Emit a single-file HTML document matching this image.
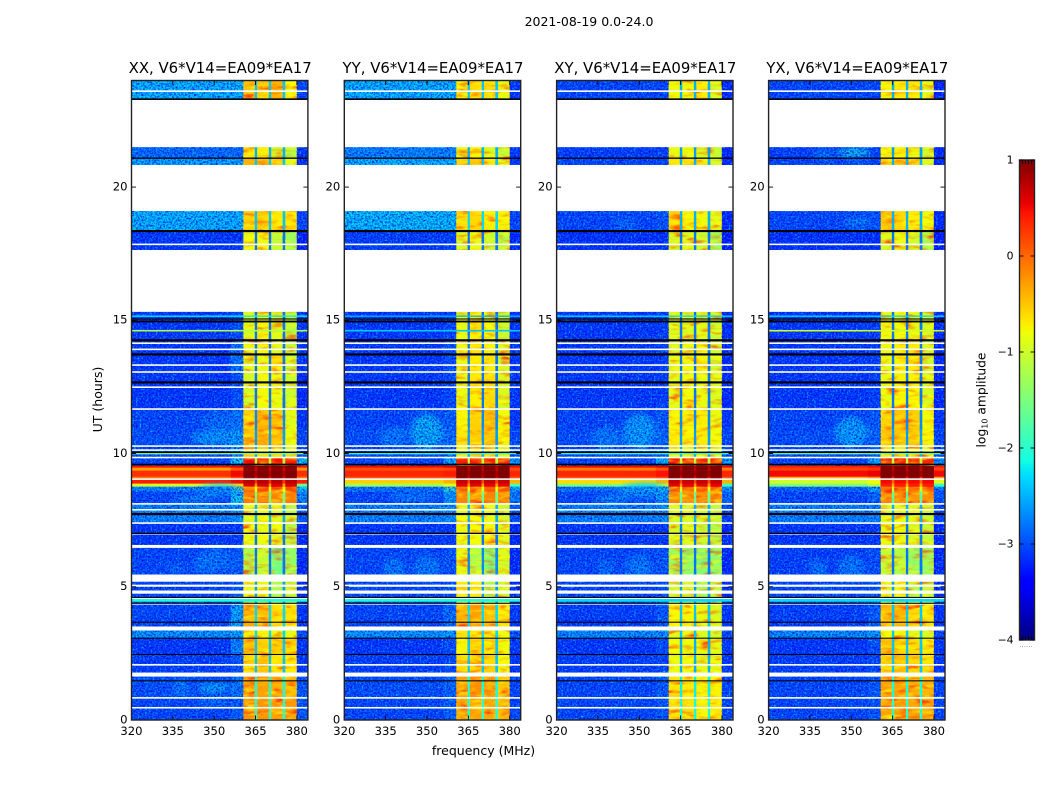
<!DOCTYPE html>
<html lang="en">
<head>
<meta charset="utf-8">
<title>2021-08-19 0.0-24.0</title>
<style>
html,body{margin:0;padding:0;background:#fff;}
svg{display:block;}
text{font-family:"DejaVu Sans","Liberation Sans",sans-serif;fill:#000;}
</style>
</head>
<body>
<svg id="chart" xmlns="http://www.w3.org/2000/svg" width="1050" height="800" viewBox="0 0 1050 800">
  <defs>
    <filter id="speckle" x="0" y="0" width="100%" height="100%" color-interpolation-filters="sRGB">
      <feTurbulence type="fractalNoise" baseFrequency="0.55" numOctaves="2" seed="7"/>
      <feColorMatrix type="matrix" values="0 0 0 0 0  0 2.6 0 0 -1.1  0 0 0 0 0.92  1.7 0 0 0 -0.42"/>
    </filter>
    <filter id="mottle" x="0" y="0" width="100%" height="100%" color-interpolation-filters="sRGB">
      <feTurbulence type="fractalNoise" baseFrequency="0.07 0.2" numOctaves="2" seed="11"/>
      <feColorMatrix type="matrix" values="0 0 0 0 1  0 3 0 0 -0.75  0 0 0 0 0  1.5 0 0 0 -0.52"/>
    </filter>
    <filter id="soft" x="-40%" y="-40%" width="180%" height="180%">
      <feGaussianBlur stdDeviation="3"/>
    </filter>
  </defs>
  <rect x="0" y="0" width="1050" height="800" fill="#fff"/>
  <text x="589" y="26" font-size="12.5" text-anchor="middle">2021-08-19 0.0-24.0</text>
  <text x="483.5" y="755" font-size="12.5" text-anchor="middle">frequency (MHz)</text>
  <text transform="translate(102,399.5) rotate(-90)" font-size="12.5" text-anchor="middle">UT (hours)</text>
  <text transform="translate(985.5,400) rotate(-90)" font-size="12.3" text-anchor="middle">log<tspan font-size="8" dy="2">10</tspan><tspan dy="-2"> amplitude</tspan></text>
  <g id="panels"></g>
  <g id="colorbar"></g>
</svg>
<script>
// ---- Data ----
const panelTitles = ["XX, V6*V14=EA09*EA17", "YY, V6*V14=EA09*EA17", "XY, V6*V14=EA09*EA17", "YX, V6*V14=EA09*EA17"];
const xTicks = [320, 335, 350, 365, 380];
const yTicks = [0, 5, 10, 15, 20];
const cbarTicks = [1, 0, -1, -2, -3, -4];

// Frequency channel edges (MHz) and the row column each span reads from.
const freqEdges = [320, 356, 360.6, 364.7, 365.6, 369.8, 370.7, 374.8, 375.8, 380, 384];
const freqColumn = [0, 1, 2, 6, 3, 6, 4, 6, 5, 7];

// Time rows (UT hours).
const rowStart = [23.3, 21.08, 20.83, 18.35, 17.64, 14.25, 13.72, 13.06, 11.67, 10.93, 10.28, 9.85, 9.55, 9.47, 9.36, 9.13, 9.04, 8.87, 8.75, 8.57, 8.11, 7.39, 6.52, 5.46, 4.36, 3.51, 3.07, 2.46, 1.78, 0.83, 0];
const rowEnd = [24, 21.5, 21.08, 19.1, 18.35, 15.32, 14.25, 13.72, 13.06, 11.67, 10.93, 10.28, 9.85, 9.55, 9.47, 9.36, 9.13, 9.04, 8.87, 8.75, 8.57, 8.11, 7.39, 6.52, 5.46, 4.36, 3.36, 3.07, 2.46, 1.63, 0.83];

// Strong-interference interval (hours): no noise texture here.
const hotStart = 8.75;
const hotEnd = 9.55;

// log10 amplitude per row: [bg, shoulder, band1, band2, band3, band4, notch, edge]
const levelsXX = [
[-2.3,-2.3,-.5,-.5,-.4,-.8,-2.4,-3],[-2.75,-2.75,-.7,-.7,-1,-1.2,-2.5,-3.1],[-2.4,-2.4,-.4,-.4,-.6,-.9,-2.4,-3.1],
[-2.3,-2.3,-.55,-.5,-.7,-.7,-2.4,-3],[-3.1,-3.1,-.9,-.8,-1.1,-1.3,-2.8,-3.3],[-3.1,-2.95,-.95,-.75,-.9,-1.1,-2.8,-3.1],
[-3.1,-2.7,-.85,-.75,-.95,-1.1,-2.8,-3.1],[-3.1,-2.7,-.95,-.85,-.65,-1.1,-2.8,-3.1],[-3.1,-2.95,-1,-.8,-.85,-1.05,-2.8,-3.2],
[-3,-2.7,-.55,-.4,-.45,-.9,-2.7,-3.1],[-2.95,-2.5,-.45,-.4,-.4,-.85,-2.6,-3],[-3,-2.6,-.6,-.6,-.6,-.9,-2.5,-3],
[-3,-2.2,.5,.45,.45,.4,-1.2,-2.2],[.45,.6,1,1,1,1,.8,.45],[-.3,.1,.95,.95,.95,.95,.6,-.2],
[.3,.5,1,1,1,1,.8,.3],[-.1,.2,.9,.9,.9,.9,.5,-.1],[.4,.5,.75,.75,.75,.75,.3,.4],
[-1,-.6,.6,.6,.6,.6,-.3,-1.6],[-2.6,-1.4,.1,.2,.2,.2,-.8,-2.2],[-3,-2.2,-.1,-.15,-.15,-.1,-1.5,-2.6],
[-2.6,-2.5,-.9,-.85,-.9,-1.1,-2.5,-2.9],[-3.1,-3.1,-.85,-.85,-.9,-1.2,-2.8,-3.2],[-3,-2.85,-1.25,-1.1,-1.6,-1.4,-2.8,-3.2],
[-3,-2.85,-.85,-.85,-1.3,-1.1,-2.6,-3.2],[-3,-2.4,-.35,-.45,-.6,-.65,-2.3,-3.1],[-2.5,-2.4,-.75,-.75,-.85,-.85,-2.3,-2.9],
[-3.1,-2.6,-.45,-.55,-.55,-.6,-2.4,-3.1],[-3.05,-2.9,-.55,-.5,-.65,-.7,-2.4,-3.1],[-2.95,-2.7,-.25,-.3,-.35,-.4,-2.1,-2.9],
[-3,-2.85,-.2,-.25,-.3,-.25,-2,-2.9]];
const levelsYY = [
[-2.3,-2.3,-.75,-.6,-.65,-.85,-2.4,-3.1],[-2.6,-2.6,-.85,-.75,-.95,-1.1,-2.5,-3.1],[-2.3,-2.3,-.6,-.5,-.7,-.9,-2.4,-3.1],
[-2.25,-2.25,-.6,-.6,-.7,-.75,-2.3,-3],[-3.05,-3.05,-.95,-.85,-1.05,-1.2,-2.8,-3.2],[-3.1,-3,-.85,-.7,-.8,-1.05,-2.8,-3.1],
[-3.1,-2.95,-.8,-.65,-.75,-1,-2.8,-3.1],[-3.1,-2.95,-.85,-.7,-.65,-1,-2.8,-3.1],[-3.1,-3,-.85,-.7,-.6,-.95,-2.8,-3.1],
[-3,-2.85,-.75,-.55,-.45,-.8,-2.7,-3.1],[-2.95,-2.75,-.65,-.55,-.45,-.75,-2.6,-3],[-3,-2.75,-.7,-.6,-.6,-.85,-2.5,-3],
[-3,-2.4,.4,.4,.4,.35,-1.1,-2.5],[.5,.6,1,1,1,1,.8,.5],[.15,.2,1,1,1,1,.7,.15],
[.35,.4,1,1,1,1,.85,.35],[.1,.1,.95,.95,.95,.95,.6,.1],[-.55,-.4,.7,.7,.7,.7,.2,-.4],
[-1.3,-.9,.55,.55,.55,.55,-.3,-1.8],[-2.7,-1.9,.05,.1,.1,.1,-.9,-2.4],[-3,-2.5,-.15,-.2,-.15,-.2,-1.6,-2.7],
[-2.6,-2.5,-.85,-.8,-.85,-1,-2.5,-2.9],[-3.1,-3.1,-.85,-.8,-.75,-.95,-2.8,-3.2],[-3,-2.9,-.85,-1.25,-1.5,-1,-2.7,-3.2],
[-3,-2.9,-.7,-.7,-1.2,-1,-2.6,-3.2],[-3,-2.75,-.4,-.3,-.45,-.7,-2.3,-3.1],[-2.5,-2.45,-.65,-.65,-.7,-.8,-2.3,-2.9],
[-3.1,-2.95,-.75,-.55,-.65,-.8,-2.4,-3.1],[-3.05,-3,-.6,-.6,-.55,-.8,-2.4,-3.1],[-2.95,-2.8,-.3,-.2,-.25,-.5,-2.1,-3],
[-3,-2.85,-.35,-.3,-.35,-.45,-2,-3]];
const levelsXY = [
[-3,-3,-.8,-.8,-.7,-.95,-2.5,-3.2],[-3.05,-3.05,-.85,-.85,-.95,-1.1,-2.6,-3.2],[-3,-3,-.7,-.65,-.75,-1,-2.5,-3.2],
[-3,-2.9,-.6,-.75,-.8,-.9,-2.5,-3.2],[-3.15,-3.15,-1,-.95,-1.05,-1.3,-2.8,-3.3],[-3.1,-3.05,-.95,-.95,-.9,-1.05,-2.8,-3.2],
[-3.1,-3.05,-.95,-.85,-.8,-1.05,-2.8,-3.2],[-3.1,-3.05,-.9,-.8,-.75,-1,-2.8,-3.2],[-3.1,-3.05,-.9,-.8,-.85,-.95,-2.8,-3.2],
[-3,-2.9,-.75,-.75,-.7,-.85,-2.7,-3.1],[-2.95,-2.8,-.7,-.7,-.7,-.8,-2.6,-3],[-3,-2.85,-.8,-.8,-.8,-.9,-2.5,-3],
[-3,-2.3,.45,.4,.4,.4,-1.1,-2.4],[.5,.6,1,1,1,1,.8,.5],[-.1,.1,1,1,1,1,.7,-.1],
[.35,.45,1,1,1,1,.85,.35],[.1,.2,.95,.95,.95,.95,.5,.1],[-.6,-.4,.7,.7,.7,.7,.2,-.4],
[-1.5,-1,.55,.55,.55,.55,-.3,-1.9],[-2.7,-1.9,.1,.05,.1,.1,-.9,-2.5],[-3,-2.6,-.15,-.25,-.15,-.1,-1.6,-2.8],
[-2.6,-2.55,-1,-.95,-1,-1.1,-2.5,-3],[-3.1,-3.1,-1,-1,-1.05,-1.2,-2.8,-3.2],[-3,-2.9,-1.3,-1.4,-1.5,-1.45,-2.8,-3.2],
[-3,-2.9,-1,-1,-1.3,-1.1,-2.6,-3.2],[-3.05,-2.85,-.75,-.75,-.85,-.95,-2.4,-3.1],[-2.55,-2.5,-.9,-.9,-.95,-1,-2.4,-3],
[-3.1,-2.95,-.8,-.85,-.85,-.9,-2.5,-3.1],[-3.05,-3,-.85,-.8,-.9,-.9,-2.5,-3.1],[-3,-2.85,-.65,-.7,-.75,-.75,-2.2,-3],
[-3,-2.9,-.65,-.65,-.75,-.7,-2.1,-3]];
const levelsYX = [
[-3,-3,-.75,-.7,-.65,-.9,-2.5,-3.2],[-3.05,-3.05,-.75,-.75,-.85,-1,-2.6,-3.2],[-3,-3,-.55,-.5,-.6,-.95,-2.5,-3.2],
[-3,-2.9,-.5,-.6,-.7,-.8,-2.5,-3.2],[-3.15,-3.15,-.95,-.85,-1,-1.25,-2.8,-3.3],[-3.1,-3.05,-.8,-.8,-.85,-1,-2.8,-3.2],
[-3.1,-3.05,-.8,-.7,-.7,-1,-2.8,-3.2],[-3.1,-3.05,-.85,-.75,-.7,-1,-2.8,-3.2],[-3.1,-3.05,-.85,-.75,-.75,-.95,-2.8,-3.2],
[-3,-2.9,-.55,-.5,-.55,-.8,-2.7,-3.1],[-2.95,-2.8,-.5,-.5,-.5,-.75,-2.6,-3],[-3,-2.85,-.7,-.7,-.7,-.85,-2.5,-3],
[-3,-2.4,.4,.4,.35,.35,-1.1,-2.5],[.4,.5,1,1,1,1,.8,.4],[.2,.3,1,1,1,1,.7,.2],
[.5,.55,1,1,1,1,.85,.5],[-.4,-.2,.9,.9,.9,.9,.4,-.3],[-1,-.8,.5,.5,.5,.5,0,-.9],
[-1.5,-1.2,.4,.4,.4,.4,-.4,-1.9],[-2.8,-2.4,.1,.05,.1,.1,-1,-2.7],[-3,-2.8,-.15,-.2,-.25,-.2,-1.7,-2.9],
[-2.6,-2.6,-.9,-.85,-.9,-1.05,-2.5,-3],[-3.1,-3.1,-.85,-.85,-.95,-1.1,-2.8,-3.2],[-3.05,-2.95,-1.1,-1.2,-1.4,-1.35,-2.8,-3.2],
[-3,-2.9,-.85,-.8,-1.2,-1.05,-2.6,-3.2],[-3.05,-2.85,-.45,-.4,-.6,-.7,-2.4,-3.1],[-2.55,-2.5,-.8,-.8,-.9,-.95,-2.4,-3],
[-3.1,-2.95,-.45,-.55,-.6,-.7,-2.4,-3.1],[-3.05,-3,-.55,-.45,-.6,-.65,-2.4,-3.1],[-3,-2.85,-.3,-.3,-.35,-.4,-2.1,-3],
[-3,-2.9,-.3,-.25,-.3,-.3,-2,-3]];
const panelLevels = [levelsXX, levelsYY, levelsXY, levelsYX];

// Faint emission patches: [UT, MHz, half-height h, half-width MHz, log amp]
const patchesXX = [[10.6,351,.3,9,-2.4],[11.2,352,.35,7,-2.7],[5.8,347,.5,5,-2.7],[6,351,.5,6,-2.7],[5.7,336,.2,4,-2.8],[1.2,350,.2,6,-2.3],[1.2,338,.35,3,-2.6],[.7,350,.1,6,-2.5],[8.3,342,.18,8,-2.6],[8.6,352,.25,8,-2.5]];
const patchesYY = [[10.8,350,.7,6,-2.2],[10.6,338,.4,5,-2.6],[5.7,350,.5,5,-2.6],[5.7,338,.4,4,-2.6],[8.35,345,.2,9,-2.6]];
const patchesXY = [[10.8,350,.7,6,-2.3],[10.5,338,.5,5,-2.6],[5.7,350,.5,5,-2.6],[5.7,338,.35,3,-2.7],[18.6,345,.2,4,-2.7],[8.3,340,.18,6,-2.5],[8.6,352,.3,9,-2.4]];
const patchesYX = [[21.3,351,.2,6,-2.1],[21.2,340,.2,4,-2.6],[10.8,350,.6,6,-2.3],[5.7,350,.5,5,-2.6],[5.7,338,.3,3,-2.6],[18.7,352,.2,5,-2.6]];
const panelPatches = [patchesXX, patchesYY, patchesXY, patchesYX];

// Narrow interference lines per panel: [start h, end h, log amp]
const linesXX = [[14.58,14.64,-1.2],[15.13,15.18,-2.2],[9.97,10.02,-1.5],[4.44,4.54,-2.1]];
const linesYY = [[14.58,14.64,-2.4],[15.13,15.18,-2.5],[9.97,10.02,-2],[4.44,4.54,-2.1]];
const linesXY = [[15.13,15.18,-2.3],[9.97,10.02,-2],[4.44,4.54,-2.3]];
const linesYX = [[14.58,14.64,-1],[15.13,15.18,-2.3],[9.97,10.02,-1.7],[4.44,4.54,-2.3]];
const panelLines = [linesXX, linesYY, linesXY, linesYX];

// Flagged time spans, shared by all panels (hours).
const whiteSpans = [[23.57,23.63],[21.5,23.3],[19.1,20.83],[15.32,17.64],[17.82,17.88],[14.11,14.17],[13.88,13.94],[13.29,13.35],[13.03,13.09],[12.46,12.52],[11.64,11.7],[10.25,10.31],[10.1,10.16],[9.82,9.88],[9.01,9.07],[8.08,8.14],[7.86,7.92],[7.36,7.42],[6.96,7.02],[6.46,6.57],[5.19,5.46],[5,5.08],[4.74,4.86],[4.54,4.6],[4.33,4.39],[3.36,3.51],[2.04,2.1],[1.63,1.78],[.8,.86],[.43,.49]];
const blackSpans = [[23.27,23.33],[21.06,21.11],[18.31,18.39],[15.03,15.07],[14.92,14.99],[14.21,14.29],[13.68,13.76],[12.63,12.71],[10.02,10.07],[9.56,9.62],[7.69,7.77],[6.98,7.03],[4.58,4.62],[4.36,4.4],[3.65,3.69],[3.05,3.09],[2.44,2.48],[1.45,1.49]];

// ---- Axis functions ----
const panelLeft = [131.5, 344.3, 556.6, 768.6];
const panelWidth = 176.4;
const freqMin = 320, freqMax = 384;
const plotTop = 80.5, plotBottom = 720, hourMax = 24;
function xScale(panel, f) { return panelLeft[panel] + (f - freqMin) / (freqMax - freqMin) * panelWidth; }
function yScale(h) { return plotBottom - h / hourMax * (plotBottom - plotTop); }
const cbarX = 1019.5, cbarW = 15, cbarTop = 160, cbarBottom = 640;
function cbarScale(v) { return cbarBottom - (v + 4) / 5 * (cbarBottom - cbarTop); }

function clamp01(x) { return Math.max(0, Math.min(1, x)); }
function jet(v) {
  const x = clamp01((v + 4) / 5);
  let r, g, b;
  if (x < .35) r = 0; else if (x < .66) r = (x - .35) / .31; else if (x < .89) r = 1; else r = 1 - (x - .89) / .11 * .5;
  if (x < .125) g = 0; else if (x < .375) g = (x - .125) / .25; else if (x < .64) g = 1; else if (x < .91) g = 1 - (x - .64) / .27; else g = 0;
  if (x < .11) b = .5 + x / .11 * .5; else if (x < .34) b = 1; else if (x < .65) b = 1 - (x - .34) / .31; else b = 0;
  return "rgb(" + Math.round(r * 255) + "," + Math.round(g * 255) + "," + Math.round(b * 255) + ")";
}
const NS = "http://www.w3.org/2000/svg";
function make(tag, attrs, parent) {
  const e = document.createElementNS(NS, tag);
  for (const k in attrs) e.setAttribute(k, attrs[k]);
  parent.appendChild(e);
  return e;
}

const panelsRoot = document.getElementById("panels");
const panelKeys = ["xx", "yy", "xy", "yx"];

panelLevels.forEach(function (levels, p) {
  const left = panelLeft[p], right = left + panelWidth;
  const group = make("g", {}, panelsRoot);
  
  

  const clip = make("clipPath", { id: "clip" + p }, group);
  make("rect", { x: left, y: plotTop, width: panelWidth, height: plotBottom - plotTop }, clip);
  const inner = make("g", { "clip-path": "url(#clip" + p + ")" }, group);

  // heat-map cells
  levels.forEach(function (row, r) {
    const y0 = yScale(rowEnd[r]), y1 = yScale(rowStart[r]);
    freqColumn.forEach(function (col, c) {
      const x0 = xScale(p, freqEdges[c]), x1 = xScale(p, freqEdges[c + 1]);
      const cell = make("rect", { x: x0, y: y0, width: x1 - x0 + .3, height: y1 - y0 + .3, fill: jet(row[col]) }, inner);
      
      
    });
  });

  // emission patches
  const patchGroup = make("g", { filter: "url(#soft)" }, inner);
  
  
  panelPatches[p].forEach(function (d) {
    const patch = make("ellipse", {
      cx: xScale(p, d[1]), cy: yScale(d[0]),
      rx: xScale(p, d[1] + d[3]) - xScale(p, d[1]),
      ry: yScale(d[0] - d[2]) - yScale(d[0]),
      fill: jet(d[4]), opacity: .8
    }, patchGroup);
    
    
  });

  // textures, skipped across the strong-interference interval
  [[hourMax, hotEnd], [hotStart, 0]].forEach(function (span, si) {
    const yA = yScale(span[0]), yB = yScale(span[1]);
    const tex = make("rect", { x: left, y: yA, width: xScale(p, freqEdges[2]) - left, height: yB - yA, filter: "url(#speckle)" }, inner);
    
    
    const edgeTex = make("rect", { x: xScale(p, freqEdges[9]), y: yA, width: right - xScale(p, freqEdges[9]), height: yB - yA, filter: "url(#speckle)" }, inner);
    
    
    [2, 4, 6, 8].forEach(function (k) {
      const bandTex = make("rect", { x: xScale(p, freqEdges[k]), y: yA, width: xScale(p, freqEdges[k + 1]) - xScale(p, freqEdges[k]), height: yB - yA, filter: "url(#mottle)" }, inner);
      
      
    });
  });

  // interference lines
  panelLines[p].forEach(function (d) {
    const line = make("rect", { x: left, y: yScale(d[1]), width: panelWidth, height: yScale(d[0]) - yScale(d[1]), fill: jet(d[2]) }, inner);
    
    
  });

  // flagged spans
  whiteSpans.forEach(function (d) {
    const gap = make("rect", { x: left, y: yScale(d[1]), width: panelWidth, height: yScale(d[0]) - yScale(d[1]), fill: "#fff" }, inner);
    
    
  });
  blackSpans.forEach(function (d) {
    const flag = make("rect", { x: left, y: yScale(d[1]), width: panelWidth, height: yScale(d[0]) - yScale(d[1]), fill: "#000" }, inner);
    
    
  });

  // ticks
  xTicks.forEach(function (t) {
    const x = xScale(p, t);
    const tb = make("line", { x1: x, x2: x, y1: plotBottom, y2: plotBottom - 4.5, stroke: "#000", "stroke-width": .9 }, group);
    
    
    const tt = make("line", { x1: x, x2: x, y1: plotTop, y2: plotTop + 4.5, stroke: "#000", "stroke-width": .9 }, group);
    
    
    const lbl = make("text", { x: x, y: 735, "font-size": 11.6, "text-anchor": "middle" }, group);
    lbl.textContent = String(t);
    
    
  });
  yTicks.forEach(function (t) {
    const y = yScale(t);
    const tl = make("line", { x1: left, x2: left + 4.5, y1: y, y2: y, stroke: "#000", "stroke-width": .9 }, group);
    
    
    const tr = make("line", { x1: right, x2: right - 4.5, y1: y, y2: y, stroke: "#000", "stroke-width": .9 }, group);
    
    
    const lbl = make("text", { x: left - 4, y: y + 3.4, "font-size": 11.6, "text-anchor": "end" }, group);
    lbl.textContent = String(t);
    
    
  });

  // frame and title
  const frame = make("rect", { x: left, y: plotTop, width: panelWidth, height: plotBottom - plotTop, fill: "none", stroke: "#222", "stroke-width": 1.4 }, group);
  
  
  const title = make("text", { x: left + panelWidth / 2 + .5, y: 73, "font-size": 14.9, "text-anchor": "middle" }, group);
  title.textContent = panelTitles[p];
  
  
});

// ---- Colour bar ----
const cbar = document.getElementById("colorbar");
for (let py = cbarTop; py < cbarBottom; py++) {
  const v = 1 - (py + .5 - cbarTop) / (cbarBottom - cbarTop) * 5;
  const strip = make("rect", { x: cbarX, y: py, width: cbarW, height: 1.2, fill: jet(v) }, cbar);
  
  
}
const cbarFrame = make("rect", { x: cbarX, y: cbarTop, width: cbarW, height: cbarBottom - cbarTop, fill: "none", stroke: "#222", "stroke-width": 1.4 }, cbar);


cbarTicks.forEach(function (t) {
  const y = cbarScale(t);
  const a = make("line", { x1: cbarX, x2: cbarX + 4, y1: y, y2: y, stroke: "#000", "stroke-width": .9 }, cbar);
  
  
  const b = make("line", { x1: cbarX + cbarW, x2: cbarX + cbarW - 4, y1: y, y2: y, stroke: "#000", "stroke-width": .9 }, cbar);
  
  
  const lbl = make("text", { x: 1013.5, y: y + 3.5, "font-size": 10.8, "text-anchor": "end" }, cbar);
  lbl.textContent = t < 0 ? "\u2212" + Math.abs(t) : String(t);
  
  
});
[3, 6, 9, 12].forEach(function (dx) {
  const top = make("line", { x1: cbarX + dx, x2: cbarX + dx, y1: cbarTop, y2: cbarTop + 4, stroke: "#000", "stroke-width": .8 }, cbar);
  
  
  const bottom = make("line", { x1: cbarX + dx, x2: cbarX + dx, y1: cbarBottom, y2: cbarBottom - 4, stroke: "#000", "stroke-width": .8 }, cbar);
  
  
});
const dots = make("text", { x: 1026, y: 647, "font-size": 7, "text-anchor": "middle", style: "fill:#888" }, cbar);
dots.textContent = "......";


</script>
</body>
</html>
